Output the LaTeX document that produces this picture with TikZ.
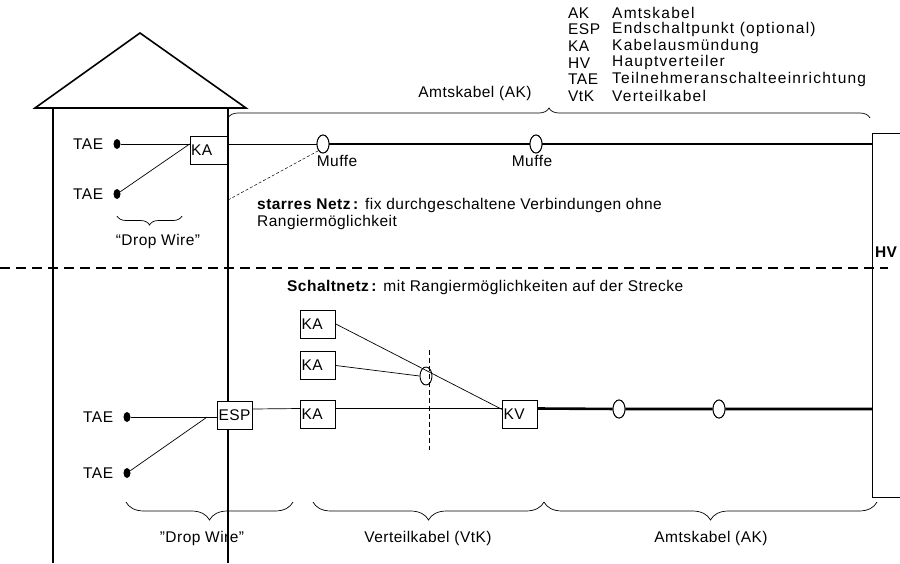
\documentclass[tikz,border=0pt]{standalone}
\usepackage{fontspec}
\setmainfont[LetterSpace=3]{Liberation Sans}
\newfontfamily\legfont[LetterSpace=8]{Liberation Sans}
\usetikzlibrary{positioning,calc,shapes.geometric,decorations.pathreplacing}

\begin{document}
\begin{tikzpicture}
[x=1pt,y=-1pt,
every node/.style={font=\fontsize{15.5}{17}\selectfont,inner sep=0pt},
legende/.style={font=\fontsize{15.5}{17}\selectfont\legfont,anchor=west},
wall/.style={line width=1.6pt},
wire/.style={line width=0.7pt},
trunk/.style={line width=2.6pt},
kbox/.style={draw,fill=white,line width=0.7pt,minimum width=35pt,minimum height=28pt,inner sep=1pt,text width=33pt,align=left},
muffe/.style={draw,ellipse,line width=0.9pt,minimum width=12pt,minimum height=18pt},
dose/.style={fill=black,ellipse,minimum width=7pt,minimum height=10pt},
klammer/.style={decorate,decoration={brace,amplitude=#1},line width=0.7pt}]
\useasboundingbox (0,0) rectangle (900,563);

% Haus
\draw[wall] (35,108) -- (140,33) -- (246,108) -- cycle;
\draw[wall] (53,108) -- (53,563);
\draw[wall] (228,108) -- (228,563);

% Hauptverteiler
\coordinate (hvt) at (872,133);
\coordinate (hvb) at (872,497);
\draw[line width=0.8pt] (900,133) -- (hvt) -- (hvb) -- (900,497);
\node[font=\fontsize{15.5}{17}\selectfont\bfseries] (hv) at (886,252) {HV};

% Legende
\foreach \ab/\txt [count=\i] in {AK/Amtskabel,ESP/{Endschaltpunkt (optional)},KA/Kabelausm\"undung,HV/Hauptverteiler,TAE/Teilnehmeranschalteeinrichtung,VtK/Verteilkabel}
{
\node[anchor=west] (ab\i) at (568,{13+16.6*(\i-1)}) {\ab};
\node[legende] (def\i) at (612,{13+16.6*(\i-1)}) {\txt};
}

% starres Netz
\node[dose] (d1) at (117,144) {};
\node[dose] (d2) at (117,194) {};
\node[left=10pt of d1] (tae1) {TAE};
\node[left=10pt of d2] (tae2) {TAE};
\node[kbox,minimum width=37pt,text width=35pt] (ka) at (208.5,150) {KA};
\coordinate (kaw) at ([yshift=6pt]ka.west);
\draw[wire] (d1) -- (kaw);
\draw[wire] (d2) -- (kaw);
\node[muffe] (m1) at (323,144) {};
\node[muffe] (m2) at (536,144) {};
\coordinate (hv1) at (hvt |- m1);
\draw[wire] ([yshift=6pt]ka.east) -- (m1);
\draw[trunk] (m1) -- (m2) -- (hv1);
\node[muffe,fill=white] at (m1) {};
\node[muffe,fill=white] at (m2) {};
\node (muffe1) at (337,161) {Muffe};
\node (muffe2) at (532,161) {Muffe};
\coordinate (st) at (228,200);
\draw[line width=0.5pt,dash pattern=on 3pt off 2pt] (st) -- (m1.south west);

\draw[klammer=10pt] (228,118) -- (870,118);
\node (ak1) at (475,93) {Amtskabel (AK)};
\draw[klammer=9pt] (182,216) -- (117,216);
\node (dw1) at (158,241) {``Drop Wire''};

\node[anchor=north west,align=left] (starr) at (257,198) {\textbf{starres Netz\,:} fix durchgeschaltene Verbindungen ohne\\Rangierm\"oglichkeit};

% Trennlinie
\draw[line width=1.3pt,dash pattern=on 10pt off 6pt] (0,268) -- (888,268);

% Schaltnetz
\node[anchor=west] (schalt) at (287,287) {\textbf{Schaltnetz\,:} mit Rangierm\"oglichkeiten auf der Strecke};
\node[dose] (d3) at (127,417) {};
\node[dose] (d4) at (127,473) {};
\node[left=10pt of d3] (tae3) {TAE};
\node[left=10pt of d4] (tae4) {TAE};
\node[kbox] (esp) at (235,415) {ESP};
\node[kbox] (ka1) at (318,324) {KA};
\node[kbox] (ka2) at (318,365.5) {KA};
\node[kbox] (ka3) at (318,414.5) {KA};
\node[kbox] (kv) at (520,414.5) {KV};
\coordinate (ein) at (d3 -| esp.west);
\draw[wire] (d3) -- (ein);
\draw[wire] (d4) -- ($(ein)+(-10,0)$);
\draw[wire] ([yshift=6pt]esp.east) -- ([yshift=6pt]ka3.west);
\draw[wire] ([yshift=6pt]ka3.east) -- ([yshift=6pt]kv.west);
\node[muffe] (sp) at (426,376) {};
\draw[wire] (ka2.east) -- (sp.west);
\draw[wire] (ka1.east) -- ([yshift=5pt]kv.west);
\coordinate (gt) at (429,350);
\coordinate (gb) at (429,450);
\draw[line width=0.9pt,dash pattern=on 5pt off 3pt] (gt) -- (gb);
\node[muffe] (m3) at (619,409) {};
\node[muffe] (m4) at (719,409) {};
\coordinate (hv2) at (hvt |- m3);
\draw[trunk] ([yshift=6pt]kv.east) -- (m3) -- (m4) -- (hv2);
\node[muffe,fill=white] at (m3) {};
\node[muffe,fill=white] at (m4) {};

\draw[klammer=18pt] (293,502) -- (126,502);
\draw[klammer=18pt] (544,502) -- (313,502);
\draw[klammer=18pt] (877,502) -- (544,502);
\node (dw2) at (202,538) {"Drop Wire"};
\node (vtk) at (428,538) {Verteilkabel (VtK)};
\node (ak2) at (711,538) {Amtskabel (AK)};
\end{tikzpicture}
\end{document}
